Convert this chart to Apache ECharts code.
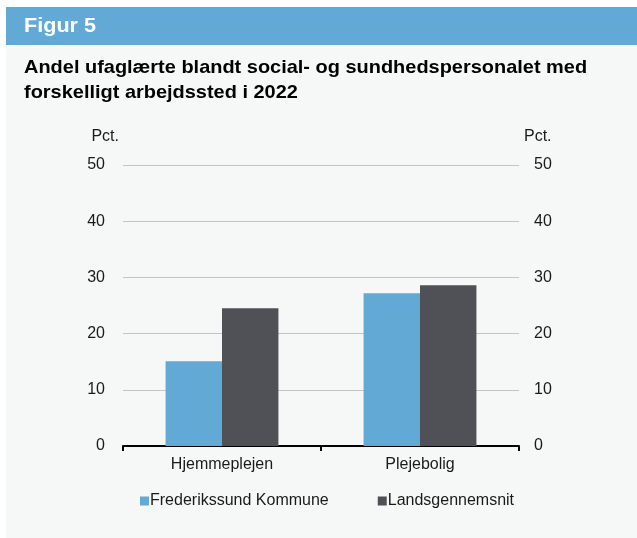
<!DOCTYPE html>
<html>
<head>
<meta charset="utf-8">
<script src="https://cdn.jsdelivr.net/npm/echarts@6/dist/echarts.min.js"></script>
<style>
html,body{margin:0;padding:0;background:#ffffff;}
#chart{width:637px;height:538px;}
</style>
</head>
<body>
<div id="chart"></div>
<script>
const categories = ['Hjemmeplejen', 'Plejebolig'];
const seriesNames = ['Frederikssund Kommune', 'Landsgennemsnit'];
const frederikssund = [15.1, 27.2];
const landsgennemsnit = [24.5, 28.6];
const figureLabel = 'Figur 5';
const titleText = 'Andel ufaglærte blandt social- og sundhedspersonalet med\nforskelligt arbejdssted i 2022';
const unitLabel = 'Pct.';

const chart = echarts.init(document.getElementById('chart'), null, {renderer: 'canvas'});
const font = 'Liberation Sans, Arial, sans-serif';
const yAxisBase = {
  type: 'value', min: 0, max: 50, interval: 10,
  name: unitLabel, nameLocation: 'end', nameGap: 28,
  axisLine: {show: false}, axisTick: {show: false},
  axisLabel: {color: '#1a1a1a', fontSize: 16, fontFamily: font}
};
chart.setOption({
  animation: false,
  backgroundColor: '#ffffff',
  graphic: [
    {type: 'rect', shape: {x: 6, y: 45, width: 631, height: 493}, style: {fill: '#f6f8f8'}, z: -10},
    {type: 'rect', shape: {x: 6, y: 7, width: 631, height: 38}, style: {fill: '#63a9d5'}, z: -10},
    {type: 'text', x: 24, y: 26.5, scaleX: 1.08, originX: 0, originY: 0,
     style: {text: figureLabel, x: 0, y: 0, fill: '#ffffff', font: 'bold 20px ' + font, verticalAlign: 'middle', align: 'left'}},
    {type: 'text', x: 24, y: 55, scaleX: 1.05, originX: 0, originY: 0,
     style: {text: titleText, x: 0, y: 0, fill: '#000000', font: 'bold 19px ' + font, lineHeight: 25, verticalAlign: 'top', align: 'left'}}
  ],
  grid: {left: 123, right: 118, top: 165, bottom: 92},
  legend: {
    data: seriesNames, left: 140, top: 493, padding: 0, itemWidth: 9, itemHeight: 9, itemGap: 49,
    icon: 'rect',
    textStyle: {fontSize: 16, color: '#1a1a1a', fontFamily: font, padding: [0, 0, 0, -4]}
  },
  xAxis: {
    type: 'category', data: categories,
    axisLine: {lineStyle: {color: '#000000', width: 2}},
    axisTick: {show: true, length: 5, lineStyle: {color: '#000000', width: 2}},
    axisLabel: {color: '#1a1a1a', fontSize: 16, fontFamily: font, margin: 11}
  },
  yAxis: [
    Object.assign({}, yAxisBase, {
      position: 'left',
      nameTextStyle: {align: 'right', verticalAlign: 'middle', color: '#1a1a1a', fontSize: 16, fontFamily: font, padding: [0, 4, 0, 0]},
      axisLabel: Object.assign({}, yAxisBase.axisLabel, {margin: 18}),
      splitLine: {show: true, lineStyle: {color: '#c4c4c4', width: 1}}
    }),
    Object.assign({}, yAxisBase, {
      position: 'right',
      nameTextStyle: {align: 'left', verticalAlign: 'middle', color: '#1a1a1a', fontSize: 16, fontFamily: font, padding: [0, 0, 0, 5]},
      axisLabel: Object.assign({}, yAxisBase.axisLabel, {margin: 15}),
      splitLine: {show: false}
    })
  ],
  series: [
    {name: seriesNames[0], type: 'bar', data: frederikssund, barGap: '0%', barCategoryGap: '43%',
     itemStyle: {color: '#63a9d5'}},
    {name: seriesNames[1], type: 'bar', data: landsgennemsnit, barGap: '0%', barCategoryGap: '43%',
     itemStyle: {color: '#505157'}}
  ]
});
</script>
</body>
</html>
